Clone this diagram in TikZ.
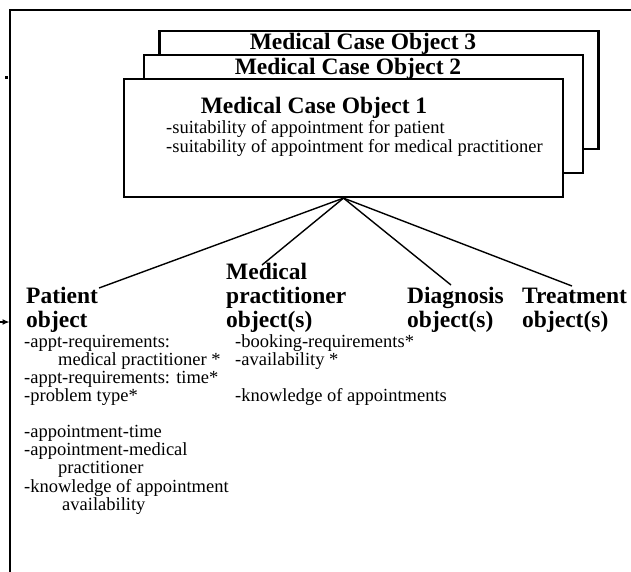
\documentclass[tikz,border=0pt]{standalone}
\usepackage{fontspec}
\setmainfont{Liberation Serif}
\usetikzlibrary{arrows.meta}
\begin{document}
\begin{tikzpicture}[x=1pt,y=-1pt,
  frameline/.style={line width=2.2pt},
  casebox/.style={draw, line width=2.2pt, fill=white, minimum width=439pt, minimum height=118pt, inner sep=0pt},
  casetitle/.style={inner sep=0pt, anchor=base, font=\fontsize{23.5}{25}\selectfont\bfseries},
  objhead/.style={inner sep=0pt, anchor=base west, font=\fontsize{23.5}{24}\selectfont\bfseries},
  toplist/.style={inner sep=0pt, anchor=base west, font=\fontsize{18.5}{19}\selectfont},
  objlist/.style={inner sep=0pt, anchor=base west, font=\fontsize{18.5}{18}\selectfont},
  link/.style={line width=1.4pt}]
\useasboundingbox (0,0) rectangle (631,571);
\clip (0,0) rectangle (631,571);

% outer frame
\draw[frameline] (10,590) -- (10,10) -- (650,10);
\fill (5,76) rectangle (7.5,78.5);

% incoming arrow
\coordinate (ain) at (0,322);
\coordinate (aout) at (9.5,322);
\draw[line width=1.2pt, -{Latex[length=7pt,width=6pt]}] (ain) -- (aout);

% stacked case boxes
\node[casebox] (mco3) at (379,90) {};
\node[casetitle] (t3) at (363,49) {Medical Case Object 3};
\node[casebox] (mco2) at (363.5,114) {};
\node[casetitle] (t2) at (348,74) {Medical Case Object 2};
\node[casebox] (mco1) at (343.5,138) {};
\node[casetitle] (t1) at (314,113) {Medical Case Object 1};
\node[toplist] (l1) at (166,133) {\begin{tabular}[t]{@{}l@{}}-suitability of appointment for patient\\-suitability of appointment for medical practitioner\end{tabular}};

% object headings
\node[objhead] (pat) at (26,303) {\begin{tabular}[t]{@{}l@{}}Patient\\object\end{tabular}};
\node[objhead] (med) at (226,279) {\begin{tabular}[t]{@{}l@{}}Medical\\practitioner\\object(s)\end{tabular}};
\node[objhead] (dia) at (407,303) {\begin{tabular}[t]{@{}l@{}}Diagnosis\\object(s)\end{tabular}};
\node[objhead] (tre) at (522,303) {\begin{tabular}[t]{@{}l@{}}Treatment\\object(s)\end{tabular}};

% connector ends
\coordinate (pend) at (99,288);
\coordinate (mend) at (262,265);
\coordinate (dend) at (451,285);
\coordinate (tend) at (572,286);
\draw[link] (pend) -- (mco1.south) -- (tend);
\draw[link] (mend) -- (mco1.south) -- (dend);

% attribute lists
\node[objlist] (plist) at (24,347) {\begin{tabular}[t]{@{}l@{}}-appt-requirements:\\\hspace{34pt}medical practitioner *\\-appt-requirements: time*\\-problem type*\\[18pt]-appointment-time\\-appointment-medical\\\hspace{34pt}practitioner\\-knowledge of appointment\\\hspace{38pt}availability\end{tabular}};
\node[objlist] (mlist) at (235,347) {\begin{tabular}[t]{@{}l@{}}-booking-requirements*\\-availability *\\\\-knowledge of appointments\end{tabular}};
\end{tikzpicture}
\end{document}
